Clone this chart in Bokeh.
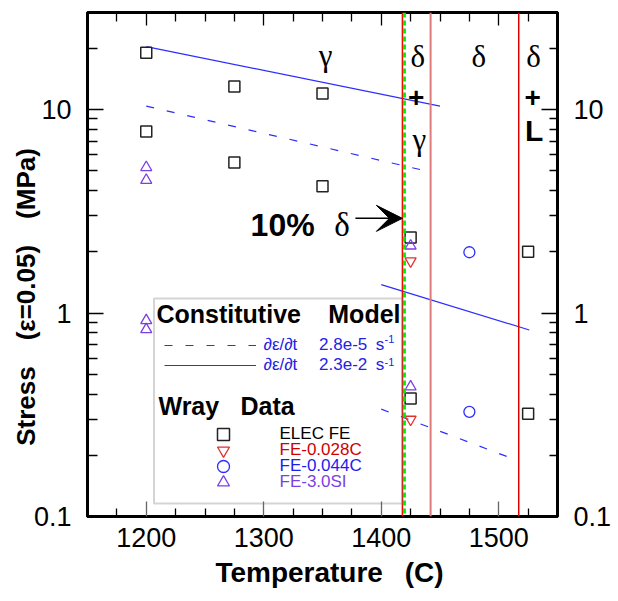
import numpy as np
from bokeh.plotting import figure
from bokeh.models import (Range1d, LinearAxis, LogAxis, FixedTicker, CustomJSTickFormatter,
                          Span, Label, Arrow, VeeHead, BoxAnnotation, Legend, LegendItem)
from bokeh.embed import file_html
from bokeh.resources import INLINE

# ---------------- data ----------------
elec_fe_T = [1200, 1200, 1275, 1275, 1350, 1350, 1425, 1425, 1525, 1525]
elec_fe_stress = [19.0, 7.8, 13.0, 5.5, 12.0, 4.2, 2.35, 0.38, 2.0, 0.32]

fe_028c_T = [1425, 1425]
fe_028c_stress = [1.80, 0.30]

fe_044c_T = [1475, 1475]
fe_044c_stress = [1.99, 0.327]

fe_3si_T = [1200, 1200, 1200, 1200, 1425, 1425]
fe_3si_stress = [5.2, 4.5, 0.92, 0.83, 2.14, 0.434]

# constitutive model: gamma branch and delta branch for each strain rate
model_fast_T = [[1200, 1450], [1400, 1526]]
model_fast_stress = [[20.4, 10.4], [1.38, 0.825]]
model_slow_T = [[1200, 1443], [1400, 1517]]
model_slow_stress = [[10.4, 4.92], [0.337, 0.1875]]

phase_bounds = [1418, 1442, 1517]
phase_colors = ["#ff0000", "#e07b7b", "#e00000"]
ten_pct_delta_T = 1419.7

x_ticks = [1200, 1300, 1400, 1500]
x_minor = [1175, 1225, 1250, 1275, 1325, 1350, 1375, 1425, 1450, 1475, 1525]
y_ticks = [0.1, 1, 10]
y_minor = [0.2, 0.3, 0.4, 0.5, 0.6, 0.7, 0.8, 0.9, 2, 3, 4, 5, 6, 7, 8, 9, 20]

BLUE = "#2d2dff"
BLUE_TXT = "#2323e6"
RED = "#e03030"
RED_TXT = "#d00000"
PURPLE = "#7b3fe4"
SANS = "Liberation Sans"
SERIF = "Liberation Serif"

# ---------------- figure ----------------
p = figure(width=618, height=601, x_range=Range1d(1150, 1550), y_range=Range1d(0.1, 30),
           y_axis_type="log", output_backend="svg", toolbar_location=None,
           min_border_left=87, min_border_right=61, min_border_top=12, min_border_bottom=85)
p.xgrid.visible = False
p.ygrid.visible = False
p.outline_line_color = "black"
p.outline_line_width = 3
p.background_fill_color = "white"
p.border_fill_color = "white"

yfmt = CustomJSTickFormatter(code="return tick.toString()")

def style_axis(ax, tick_in, minor_in, major_color="black"):
    ax.axis_line_width = 3
    ax.axis_line_color = "black"
    ax.major_tick_in = tick_in
    ax.major_tick_out = 0
    ax.minor_tick_in = minor_in
    ax.minor_tick_out = 0
    ax.major_tick_line_width = 1.3
    ax.minor_tick_line_width = 1.3
    ax.major_tick_line_color = major_color
    ax.minor_tick_line_color = "black"
    ax.major_label_text_font = SANS
    ax.major_label_text_font_size = "27px"
    ax.major_label_text_color = "black"
    ax.axis_label_text_font = SANS
    ax.axis_label_text_font_size = "26px"
    ax.axis_label_text_font_style = "bold"
    ax.axis_label_text_color = "black"

# bottom
xb = p.xaxis[0]
xb.ticker = FixedTicker(ticks=x_ticks, minor_ticks=x_minor)
style_axis(xb, 15, 8, "#666666")
xb.major_label_standoff = 11
xb.axis_label = "\u2002Temperature\u2002 (C)"
xb.axis_label_text_font_size = "28px"
xb.axis_label_standoff = 7

# left
yl = p.yaxis[0]
yl.ticker = FixedTicker(ticks=y_ticks, minor_ticks=y_minor)
yl.formatter = yfmt
style_axis(yl, 16, 10)
yl.major_label_standoff = 16
yl.axis_label = "Stress\u2002\u2002(ε=0.05)\u2002\u2002(MPa)\u2003\u2003\u2002"
yl.axis_label_standoff = -10

# right
yr = LogAxis(ticker=FixedTicker(ticks=y_ticks, minor_ticks=y_minor), formatter=yfmt)
style_axis(yr, 16, 8)
yr.major_label_standoff = 16
p.add_layout(yr, "right")

# top (ticks only)
xt = LinearAxis(ticker=FixedTicker(ticks=x_ticks, minor_ticks=x_minor),
                formatter=CustomJSTickFormatter(code="return ''"))
style_axis(xt, 13, 9)
xt.major_label_standoff = 0
p.add_layout(xt, "above")

# ---------------- phase boundaries ----------------
for loc, col in zip(phase_bounds, phase_colors):
    p.add_layout(Span(location=loc, dimension="height", line_color=col,
                      line_width=2 if col == "#e07b7b" else 1.5))
p.add_layout(Span(location=ten_pct_delta_T, dimension="height", line_color="#00ee00",
                  line_width=3, line_dash="5 3"))

# ---------------- model lines ----------------
slow_r = p.multi_line(model_slow_T, model_slow_stress, line_color=BLUE, line_width=1.2,
                      line_dash="8 13")
fast_r = p.multi_line(model_fast_T, model_fast_stress, line_color=BLUE, line_width=1.2)

# ---------------- data markers ----------------
sq_r = p.scatter(elec_fe_T, elec_fe_stress, marker="square", size=11, fill_color=None,
                 line_color="#222222", line_width=1.5)
itri_r = p.scatter(fe_028c_T, fe_028c_stress, marker="inverted_triangle", size=11,
                   fill_color=None, line_color=RED, line_width=1.3)
circ_r = p.scatter(fe_044c_T, fe_044c_stress, marker="circle", size=11, fill_color=None,
                   line_color=BLUE, line_width=1.3)
tri_r = p.scatter(fe_3si_T, fe_3si_stress, marker="triangle", size=11, fill_color=None,
                  line_color=PURPLE, line_width=1.3)

# ---------------- phase annotations ----------------
def lab(x, y, text, font=SERIF, size="31px", style="normal", align="center"):
    p.add_layout(Label(x=x, y=y, text=text, text_font=font, text_font_size=size,
                       text_font_style=style, text_align=align, text_baseline="middle",
                       text_color="black"))

lab(1352.6, 18.5, "γ")
lab(1431.2, 18.2, "δ")
lab(1483.0, 18.2, "δ")
lab(1529.7, 18.2, "δ")
lab(1429.7, 11.4, "+", font=SANS, size="28px", style="bold")
lab(1528.8, 11.4, "+", font=SANS, size="28px", style="bold")
lab(1432.5, 7.14, "γ")
lab(1530.1, 7.87, "L", font=SANS, size="30px", style="bold")
lab(1288.8, 2.71, "10%", font=SANS, size="32px", style="bold", align="left")
lab(1366.7, 2.71, "δ", size="33px")
p.add_layout(Arrow(x_start=1378, y_start=2.92, x_end=1418, y_end=2.92,
                   line_color="black", line_width=1.5,
                   end=VeeHead(size=26, fill_color="black", line_color="black")))

# ---------------- legend block (screen units relative to the frame) ----------------
def slab(x, y, text, size="25px", style="bold", color="black", align="left"):
    p.add_layout(Label(x=x, y=y, x_units="screen", y_units="screen", text=text,
                       text_font=SANS, text_font_size=size, text_font_style=style,
                       text_color=color, text_align=align, text_baseline="middle"))

p.add_layout(BoxAnnotation(left=66.5, right=315, bottom=13, top=218,
                           left_units="screen", right_units="screen",
                           bottom_units="screen", top_units="screen",
                           fill_alpha=0, line_color="#707070", line_width=2))
slab(69, 203, "Constitutive")
slab(313, 203, "Model", align="right")
slab(71, 111, "Wray")
slab(153, 111, "Data")

common = dict(padding=0, margin=0, background_fill_alpha=0, border_line_alpha=0,
              label_text_font=SANS, label_text_font_size="17px", label_text_baseline="middle")

p.add_layout(Legend(items=[LegendItem(label="∂ε/∂t\u2003 2.8e-5\u2002s", renderers=[slow_r]),
                           LegendItem(label="∂ε/∂t\u2003 2.3e-2\u2002s", renderers=[fast_r])],
                    location=(76.5, 141), glyph_width=92, glyph_height=20, label_height=20,
                    label_standoff=8, spacing=0, label_text_color=BLUE_TXT, **common))
slab(297, 178, "-1", size="11px", style="normal", color=BLUE_TXT)
slab(297, 155, "-1", size="11px", style="normal", color=BLUE_TXT)

marker_legends = [("ELEC FE", sq_r, "black", 434.3),
                  ("FE-0.028C", itri_r, RED_TXT, 450.0),
                  ("FE-0.044C", circ_r, "#1c1cf0", 466.0),
                  ("FE-3.0SI", tri_r, PURPLE, 482.7)]
for text, r, col, cy in marker_legends:
    p.add_layout(Legend(items=[LegendItem(label=text, renderers=[r])],
                        location=(120.5, 516.5 - (cy + 15)), glyph_width=30, glyph_height=30,
                        label_height=30, label_standoff=42, label_text_color=col, **common))

open("out.html", "w").write(file_html(p, INLINE))
